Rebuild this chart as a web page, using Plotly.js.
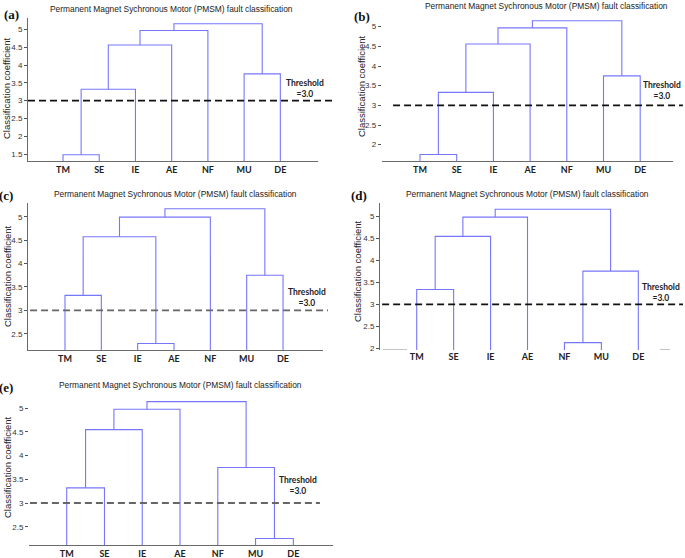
<!DOCTYPE html>
<html><head><meta charset="utf-8">
<script src="https://cdn.plot.ly/plotly-3.0.1.min.js"></script>
<style>html,body{margin:0;padding:0;background:#fff}</style>
</head><body>
<div id="chart" style="width:685px;height:558px"></div>
<script>
// ---- data ----
const leaves = ['TM','SE','IE','AE','NF','MU','DE'];
const threshold = 3.0;
const chartTitle = 'Permanent Magnet Sychronous Motor (PMSM) fault classification';
const yTitle = 'Classification coefficient';
const panelLabels = ['(a)','(b)','(c)','(d)','(e)'];
// merges: indices 0-6 are leaves, 7+ are clusters formed in order
const aLeft = [0, 7, 8, 9, 5, 10];
const aRight = [1, 2, 3, 4, 6, 11];
const aHeight = [1.48, 3.32, 4.56, 4.97, 3.75, 5.16];
const bLeft = [0, 7, 8, 9, 5, 10];
const bRight = [1, 2, 3, 4, 6, 11];
const bHeight = [1.75, 3.33, 4.56, 4.97, 3.75, 5.15];
const cLeft = [0, 2, 7, 9, 5, 10];
const cRight = [1, 3, 8, 4, 6, 11];
const cHeight = [3.32, 2.29, 4.57, 4.99, 3.75, 5.17];
const dLeft = [0, 7, 8, 4, 10, 9];
const dRight = [1, 2, 3, 5, 6, 11];
const dHeight = [3.34, 4.55, 4.99, 2.13, 3.76, 5.17];
const eLeft = [0, 7, 8, 5, 4, 9];
const eRight = [1, 2, 3, 6, 10, 11];
const eHeight = [3.32, 4.55, 4.98, 2.25, 3.75, 5.14];

// ---- layout geometry (pixels) ----
const W = 685, H = 558;
const panels = [
  {L:aLeft,R:aRight,Hh:aHeight, px:[28,318], py:[18,161.3], xr:[0.033,8.04], yr:[1.295,5.32], spine:true, xline:true, dash:'#111', dx:[0,1.052], thr:[7.68,3.35],
   title:[171.5,9], plab:[11,15], ytit:[7,88]},
  {L:bLeft,R:bRight,Hh:bHeight, px:[381.7,673], py:[15,161], xr:[-0.044,7.894], yr:[1.585,5.297], spine:false, xline:true, dash:'#111', dx:[0.039,1.034], thr:[7.59,3.38],
   title:[546,6], plab:[362,16], ytit:[361,86]},
  {L:cLeft,R:cRight,Hh:cHeight, px:[28,323], py:[203.3,350], xr:[-0.018,8.10], yr:[2.152,5.286], spine:true, xline:true, dash:'#666', dx:[0.007,1.017], thr:[7.66,3.265],
   title:[175,194], plab:[6,195], ytit:[7,276]},
  {L:dLeft,R:dRight,Hh:dHeight, px:[380,683], py:[203.3,350], xr:[0.006,8.21], yr:[1.961,5.305], spine:true, xline:false, dash:'#111', dx:[0.007,1.0], thr:[7.61,3.27],
   title:[527,194], plab:[359,195], ytit:[357,271]},
  {L:eLeft,R:eRight,Hh:eHeight, px:[29,333], py:[395,545], xr:[0.002,8.05], yr:[2.114,5.28], spine:false, xline:true, dash:'#666', dx:[0.003,0.957], thr:[7.13,3.36],
   title:[180,385], plab:[6,387], ytit:[7,467]}
];

const lineColor = '#7676fb';
const traces = [];
const layout = {
  width: W, height: H, margin:{l:0,r:0,t:0,b:0}, paper_bgcolor:'#fff', plot_bgcolor:'rgba(0,0,0,0)',
  showlegend:false, shapes:[], annotations:[]
};

panels.forEach((p, k) => {
  const sfx = k === 0 ? '' : String(k+1);
  const xa = 'x'+sfx, ya = 'y'+sfx;
  const bottom = p.yr[0];
  const nx = [], ny = [];
  for (let i = 0; i < leaves.length; i++) { nx.push(i+1); ny.push(bottom); }
  const xs = [], ys = [];
  for (let m = 0; m < p.L.length; m++) {
    const l = p.L[m], r = p.R[m], h = p.Hh[m];
    xs.push(nx[l], nx[l], nx[r], nx[r], null);
    ys.push(ny[l], h, h, ny[r], null);
    nx.push((nx[l]+nx[r])/2); ny.push(h);
  }
  traces.push({type:'scatter', mode:'lines', x:xs, y:ys, xaxis:xa, yaxis:ya,
    line:{color:lineColor, width:1.1}, hoverinfo:'skip', cliponaxis:false});

  layout['xaxis'+sfx] = {
    domain:[p.px[0]/W, p.px[1]/W], range:p.xr, anchor:ya,
    tickvals:leaves.map((_,i)=>i+1), ticktext:leaves,
    showgrid:false, zeroline:false, showline:p.xline, linecolor:'#6a6a6a', linewidth:1,
    ticks:'', tickfont:{family:'Lato, Open Sans, sans-serif', size:9, color:'#222', weight:'bold'},
    fixedrange:true
  };
  layout['yaxis'+sfx] = {
    domain:[1-p.py[1]/H, 1-p.py[0]/H], range:p.yr, anchor:xa,
    dtick:0.5, tick0:0, showgrid:false, zeroline:false,
    showline:p.spine, linecolor:'#6a6a6a', linewidth:1,
    ticks:'outside', ticklen:3, tickcolor:'#555', tickwidth:1,
    tickfont:{family:'Liberation Sans, Arial, sans-serif', size:8, color:'#333'},
    fixedrange:true
  };
  layout.shapes.push({type:'line', xref:xa+' domain', yref:ya, x0:p.dx[0], x1:p.dx[1], y0:threshold, y1:threshold,
    line:{color:p.dash, width:1.8, dash:'7px,4px'}});
  if (!p.xline) {
    layout.shapes.push({type:'line', xref:'paper', yref:ya, x0:383/W, x1:407/W, y0:bottom, y1:bottom, line:{color:'#888', width:1}});
    layout.shapes.push({type:'line', xref:'paper', yref:ya, x0:660/W, x1:670/W, y0:bottom, y1:bottom, line:{color:'#888', width:1}});
  }
  layout.annotations.push({xref:xa, yref:ya, x:p.thr[0], y:p.thr[1], text:'Threshold<br>=' + threshold.toFixed(1),
    showarrow:false, font:{family:'Lato, Open Sans, sans-serif', size:8.5, color:'#222', weight:'bold'}, xanchor:'center', yanchor:'middle'});
  layout.annotations.push({xref:'paper', yref:'paper', x:p.title[0]/W, y:1-p.title[1]/H, text:chartTitle,
    showarrow:false, font:{family:'Liberation Sans, Arial, sans-serif', size:8.4, color:'#222'}, xanchor:'center', yanchor:'middle'});
  layout.annotations.push({xref:'paper', yref:'paper', x:p.plab[0]/W, y:1-p.plab[1]/H, text:'<b>'+panelLabels[k]+'</b>',
    showarrow:false, font:{family:'Liberation Serif, DejaVu Serif, serif', size:13, color:'#111'}, xanchor:'center', yanchor:'middle'});
  layout.annotations.push({xref:'paper', yref:'paper', x:p.ytit[0]/W, y:1-p.ytit[1]/H, text:yTitle, textangle:-90,
    showarrow:false, font:{family:'Liberation Sans, Arial, sans-serif', size:9.5, color:'#222'}, xanchor:'center', yanchor:'middle'});
});

Plotly.newPlot('chart', traces, layout, {staticPlot:true, displayModeBar:false});
</script>
</body></html>
